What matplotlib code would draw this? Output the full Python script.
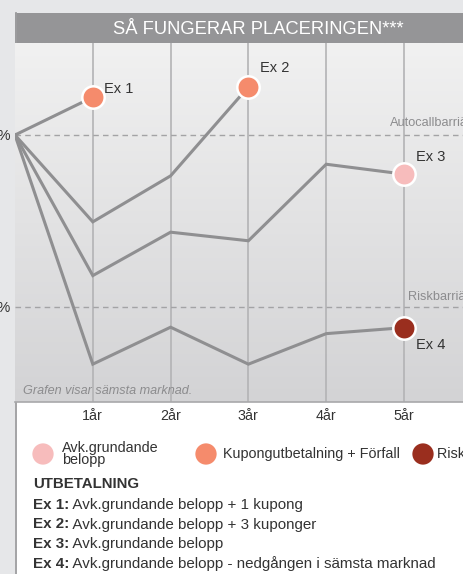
import matplotlib.pyplot as plt
import numpy as np
from matplotlib.colors import LinearSegmentedColormap
from matplotlib.patches import Rectangle

plt.rcParams['font.family'] = ['Liberation Sans', 'DejaVu Sans']

# ------------------------------------------------------------
# data (läst från bilden, % av startkurs)
# ------------------------------------------------------------
years = [0, 1, 2, 3, 4, 5]
tick_years = [1, 2, 3, 4, 5]
tick_labels = ['1år', '2år', '3år', '4år', '5år']

ex1 = [100, 108.8]
ex2 = [100, 79.8, 90.5, 111.2]
ex3 = [100, 67.3, 77.4, 75.4, 93.2, 90.9]
ex4 = [100, 46.7, 55.3, 46.7, 53.8, 55.2]

autocall_level = 100
risk_level = 60
level_labels = ['100%', '60%']

ex_names = ['Ex 1', 'Ex 2', 'Ex 3', 'Ex 4']
legend_labels = ['Avk.grundande\nbelopp', 'Kupongutbetalning + Förfall', 'Risk för förlust']
payout_lines = [
    ('Ex 1:', 'Avk.grundande belopp + 1 kupong'),
    ('Ex 2:', 'Avk.grundande belopp + 3 kuponger'),
    ('Ex 3:', 'Avk.grundande belopp'),
    ('Ex 4:', 'Avk.grundande belopp - nedgången i sämsta marknad'),
]

# ------------------------------------------------------------
# färger
# ------------------------------------------------------------
PINK = '#f7bcbc'
ORANGE = '#f58b6c'
DARKRED = '#9a2e1e'
LINE = '#8f8f91'
HEADER = '#959597'
OUTER = '#e6e7e9'
TXT = '#333333'
MUTED = '#8c8c8e'

W, H = 463, 574
fig = plt.figure(figsize=(W / 100, H / 100), dpi=100)
fig.patch.set_facecolor('white')

# overlay in pixel coordinates for frame and texts
ov = fig.add_axes([0, 0, 1, 1], zorder=0)
ov.set_xlim(0, W)
ov.set_ylim(H, 0)
ov.axis('off')
ov.add_patch(Rectangle((0, 0), 15, H, color=OUTER, lw=0))
ov.add_patch(Rectangle((0, 0), W, 13, color=OUTER, lw=0))
ov.add_patch(Rectangle((15, 13), W - 15, 30, color=HEADER, lw=0))
ov.plot([15.5, 15.5], [13, H], color='#9c9c9e', lw=1.3)
ov.text(258, 29, 'SÅ FUNGERAR PLACERINGEN***', color='white',
        fontsize=13.2, ha='center', va='center')

# ------------------------------------------------------------
# huvudgraf
# ------------------------------------------------------------
px_per_year = 77.8
xmax = (W - 15) / px_per_year
ymin, ymax = 37.9, 121.4
ax = fig.add_axes([15 / W, 1 - 402 / H, (W - 15) / W, (402 - 43) / H], zorder=1)
ax.set_xlim(0, xmax)
ax.set_ylim(ymin, ymax)
ax.patch.set_alpha(0)

grad = LinearSegmentedColormap.from_list('bg', ['#d3d3d5', '#f1f1f1'])
ax.imshow(np.linspace(0, 1, 256).reshape(-1, 1), extent=[0, xmax, ymin, ymax],
          origin='lower', aspect='auto', cmap=grad, zorder=0)

for x in tick_years:
    ax.axvline(x, color='#b3b3b5', lw=1.2, zorder=1)

ax.axhline(autocall_level, color='#a3a3a5', lw=1, dashes=(4, 3), zorder=1)
ax.axhline(risk_level, color='#a3a3a5', lw=1, dashes=(4, 3), zorder=1)

for series in [ex1, ex2, ex3, ex4]:
    ax.plot(years[:len(series)], series, color=LINE, lw=2.2, zorder=2,
            solid_joinstyle='miter')

ends = [(1, ex1[-1], ORANGE), (3, ex2[-1], ORANGE), (5, ex3[-1], PINK), (5, ex4[-1], DARKRED)]
for x, y, c in ends:
    ax.scatter([x], [y], s=260, color=c, edgecolor='white', linewidth=1.8, zorder=3)

ax.text(1.15, ex1[-1] + 2.0, ex_names[0], fontsize=10.5, color=TXT, ha='left', va='center')
ax.text(3.15, ex2[-1] + 4.3, ex_names[1], fontsize=10.5, color=TXT, ha='left', va='center')
ax.text(5.15, ex3[-1] + 4.0, ex_names[2], fontsize=10.5, color=TXT, ha='left', va='center')
ax.text(5.15, ex4[-1] - 4.1, ex_names[3], fontsize=10.5, color=TXT, ha='left', va='center')

ax.text(4.82, autocall_level + 2.8, 'Autocallbarriär', fontsize=9.2, color=MUTED,
        ha='left', va='center')
ax.text(5.05, risk_level + 2.4, 'Riskbarriär', fontsize=9.2, color=MUTED,
        ha='left', va='center')
ax.text(0.1, 40.5, 'Grafen visar sämsta marknad.', fontsize=9.1, color=MUTED,
        style='italic', ha='left', va='center')

for sp in ['top', 'right', 'left']:
    ax.spines[sp].set_visible(False)
ax.spines['bottom'].set_color('#a8a8aa')
ax.spines['bottom'].set_linewidth(1.2)
ax.set_yticks([])
ax.set_xticks(tick_years)
ax.set_xticklabels(tick_labels, fontsize=10.3, color=TXT)
ax.tick_params(axis='x', length=0, pad=5)

# y-nivåer (avklippta i originalet)
ov.text(11, 136, level_labels[0], fontsize=10.5, color=TXT, ha='right', va='center')
ov.text(11, 308, level_labels[1], fontsize=10.5, color=TXT, ha='right', va='center')

# ------------------------------------------------------------
# förklaring
# ------------------------------------------------------------
leg = fig.add_axes([0, 0, 1, 1], zorder=2)
leg.set_xlim(0, W)
leg.set_ylim(H, 0)
leg.axis('off')
leg.scatter([43, 206, 423], [454, 454, 454], s=235, color=[PINK, ORANGE, DARKRED], lw=0)
leg.text(62, 454, legend_labels[0], fontsize=10.4, color=TXT, ha='left', va='center',
         linespacing=0.9)
leg.text(223, 454, legend_labels[1], fontsize=10.4, color=TXT, ha='left', va='center')
leg.text(437, 454, legend_labels[2], fontsize=10.4, color=TXT, ha='left', va='center')

leg.text(33, 484, 'UTBETALNING', fontsize=10.8, color=TXT, ha='left', va='center',
         fontweight='bold')
for i, (head, body) in enumerate(payout_lines):
    y = 505 + i * 19.5
    t = leg.text(33, y, head, fontsize=10.9, color=TXT, ha='left', va='center',
                 fontweight='bold')
    leg.annotate(' ' + body, xycoords=t, xy=(1, 0.5), va='center', ha='left',
                 fontsize=10.9, color=TXT)

fig.savefig('out.png', dpi=100)
